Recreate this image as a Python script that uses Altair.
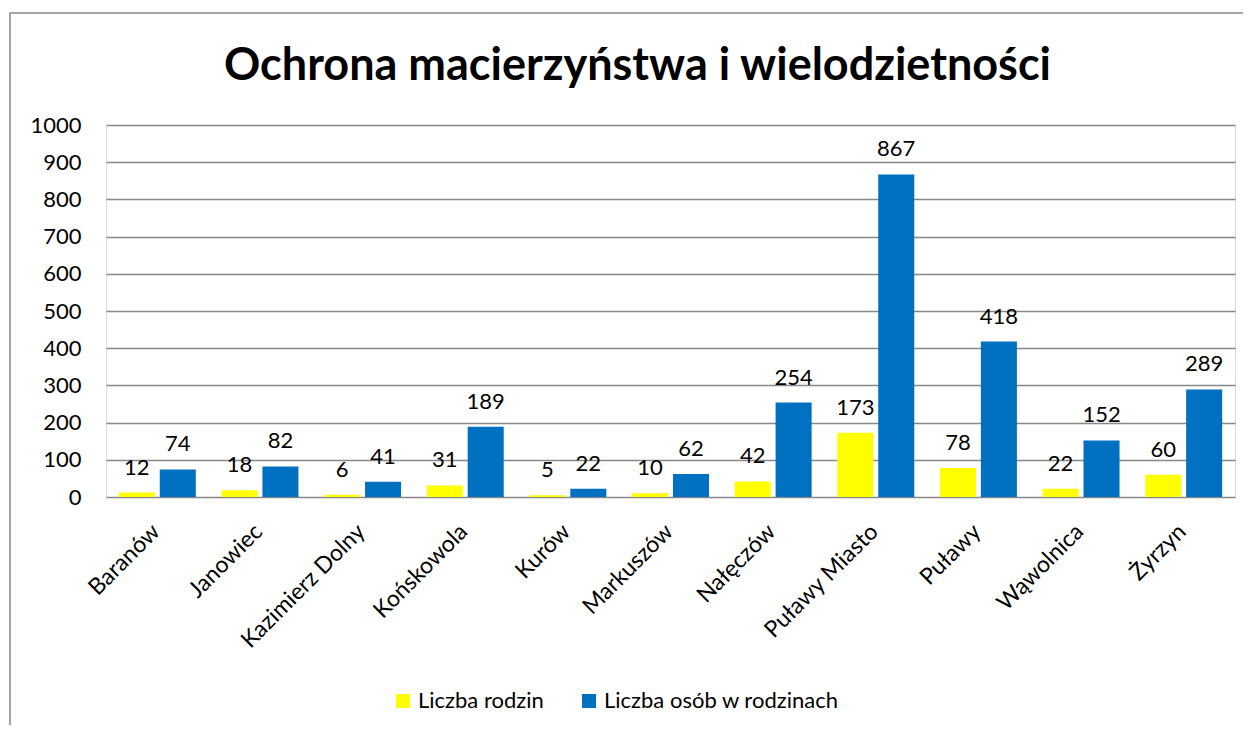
import altair as alt
import pandas as pd

categories = ["Baranów", "Janowiec", "Kazimierz Dolny", "Końskowola", "Kurów",
              "Markuszów", "Nałęczów", "Puławy Miasto", "Puławy", "Wąwolnica", "Żyrzyn"]
rodziny = [12, 18, 6, 31, 5, 10, 42, 173, 78, 22, 60]
osoby = [74, 82, 41, 189, 22, 62, 254, 867, 418, 152, 289]
series = ["Liczba rodzin", "Liczba osób w rodzinach"]
colors = ["#FFFF00", "#0070C0"]
y_ticks = list(range(0, 1001, 100))
title_text = "Ochrona macierzyństwa i wielodzietności"

rows = []
for c, a, b in zip(categories, rodziny, osoby):
    rows.append({"gmina": c, "seria": series[0], "wartosc": a})
    rows.append({"gmina": c, "seria": series[1], "wartosc": b})
df = pd.DataFrame(rows)

FONT = "Lato"
FS = 22

x = alt.X("gmina:N", sort=categories, title=None,
          scale=alt.Scale(paddingInner=0.25, paddingOuter=0.125),
          axis=alt.Axis(labelAngle=-45, labelFontSize=23, labelColor="#000000",
                        labelFont=FONT, ticks=False, domain=False, labelPadding=23,
                        labelOffset=-9, labelOverlap=False, labelLimit=0))
xo = alt.XOffset("seria:N", sort=series,
                 scale=alt.Scale(paddingInner=0.12, paddingOuter=0))
y = alt.Y("wartosc:Q", title=None,
          scale=alt.Scale(domain=[0, 1000], nice=False),
          axis=alt.Axis(values=y_ticks, format="d", labelFontSize=FS, labelColor="#000000",
                        labelFont=FONT, ticks=False, domain=False, labelPadding=25,
                        labelOverlap=False,
                        gridColor="#888888", gridWidth=1.5))

bars = alt.Chart(df).mark_bar().encode(
    x=x, xOffset=xo, y=y,
    color=alt.Color("seria:N", sort=series,
                    scale=alt.Scale(domain=series, range=colors),
                    legend=alt.Legend(title=None, orient="none", direction="horizontal",
                                      legendX=286, legendY=565, labelFontSize=FS,
                                      labelFont=FONT, labelColor="#000000",
                                      symbolType="square", symbolSize=196,
                                      symbolStrokeWidth=0, columnPadding=34,
                                      labelOffset=4, labelLimit=0)),
)

labels = alt.Chart(df).mark_text(fontSize=FS, font=FONT, color="#000000",
                                 baseline="alphabetic", dy=-18).encode(
    x=x, xOffset=xo, y=y,
    text=alt.Text("wartosc:Q"),
)

border = alt.Chart(pd.DataFrame({"a": [0]})).mark_rect(
    fill=None, stroke="#888888", strokeWidth=1.5).encode(
    x=alt.value(-96), x2=alt.value(1160), y=alt.value(-112), y2=alt.value(640))

title = alt.Chart(pd.DataFrame({"t": [title_text]})).mark_text(
    fontSize=45, font=FONT, fontWeight="bold", color="#000000",
    align="center", baseline="alphabetic").encode(
    text="t:N", x=alt.value(531.5), y=alt.value(-45))

chart = alt.layer(border, bars, labels, title).properties(
    width=1129, height=372,
    autosize=alt.AutoSizeParams(type="none"),
    padding={"left": 98, "top": 117, "right": 8, "bottom": 228},
).configure_view(stroke=None).configure(background="#FFFFFF")

chart.save("out.html", embed_options={"renderer": "svg", "actions": False})
